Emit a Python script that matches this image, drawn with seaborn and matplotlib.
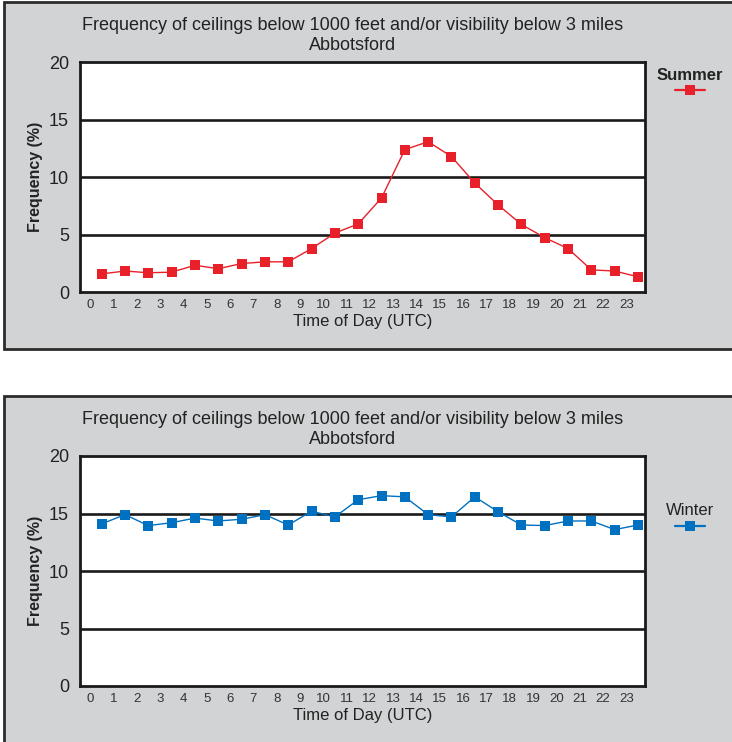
import numpy as np
import pandas as pd
import matplotlib
matplotlib.use("Agg")
import matplotlib.pyplot as plt
from matplotlib.patches import Rectangle
import seaborn as sns

# Data (hourly frequency, %)
HOURS = list(range(24))
SUMMER = [1.6, 1.85, 1.7, 1.75, 2.35, 2.05, 2.5, 2.65, 2.65, 3.8, 5.15, 5.95,
          8.2, 12.4, 13.1, 11.8, 9.5, 7.6, 5.9, 4.75, 3.8, 1.95, 1.85, 1.35]
WINTER = [14.1, 14.9, 13.95, 14.2, 14.6, 14.35, 14.5, 14.9, 14.0, 15.2, 14.7, 16.2,
          16.55, 16.45, 14.9, 14.7, 16.45, 15.15, 14.0, 13.95, 14.35, 14.35, 13.6, 14.0]
YTICKS = [0, 5, 10, 15, 20]
TITLE = "Frequency of ceilings below 1000 feet and/or visibility below 3 miles"
STATION = "Abbotsford"

sns.set_theme(style="white")
plt.rcParams["font.family"] = ["Liberation Sans Narrow", "Liberation Sans", "DejaVu Sans"]

W, H = 732, 742
fig = plt.figure(figsize=(W / 100, H / 100), dpi=100)
fig.patch.set_facecolor("white")

PANEL = "#D1D3D4"
# grey panels
fig.add_artist(Rectangle((4 / W, 1 - 349 / H), 1.0, 347 / H, transform=fig.transFigure,
                         facecolor=PANEL, edgecolor="#2b2b2b", lw=2, zorder=0))
fig.add_artist(Rectangle((4 / W, -0.02), 1.0, 1 - 396 / H + 0.02, transform=fig.transFigure,
                         facecolor=PANEL, edgecolor="#2b2b2b", lw=2, zorder=0))


def panel(ax_rect, values, season, color, title_y, bold_legend, leg_y, hh):
    ax = fig.add_axes(ax_rect)
    ax.set_facecolor("white")
    df = pd.DataFrame({"x": np.array(HOURS) + 0.5, "y": values})
    sns.lineplot(data=df, x="x", y="y", ax=ax, color=color, lw=1.0,
                 marker="s", markersize=6.5, markeredgewidth=0, zorder=3)
    ax.set_xlim(-0.43, 23.8)
    ax.set_ylim(0, 20)
    ax.set_xticks(HOURS)
    ax.set_xticklabels([str(h) for h in HOURS], fontsize=9.5, color="#333333")
    ax.set_yticks(YTICKS)
    ax.set_yticklabels([str(v) for v in YTICKS], fontsize=13, color="#222222")
    ax.tick_params(axis="x", direction="in", length=4, width=1.8, color="#222222", pad=5)
    ax.tick_params(axis="y", length=0, pad=8)
    for y in YTICKS[1:-1]:
        ax.axhline(y, color="#1a1a1a", lw=1.9, zorder=1)
    for s in ax.spines.values():
        s.set_visible(True)
        s.set_color("#1a1a1a")
        s.set_linewidth(2.0)
    ax.set_xlabel("Time of Day (UTC)", fontsize=12, color="#222222", labelpad=2)
    ax.set_ylabel("Frequency (%)", fontsize=11.5, fontweight="bold", color="#222222",
                  family=["Liberation Sans", "DejaVu Sans"], labelpad=4)
    fig.text(353 / W, 1 - title_y / H, TITLE, ha="center", va="center",
             fontsize=13, color="#222222")
    fig.text(353 / W, 1 - (title_y + 21) / H, STATION, ha="center", va="center",
             fontsize=13, color="#222222")
    leg = ax.legend([ax.get_lines()[0]], [""], title=season, loc="upper center",
                    bbox_to_anchor=(690 / W, 1 - leg_y / H), bbox_transform=fig.transFigure,
                    frameon=False, handlelength=2.0, handleheight=hh,
                    handletextpad=0, borderpad=0.0, labelspacing=0)
    for h in leg.legend_handles:
        h.set_linewidth(1.6)
    leg.get_title().set_fontsize(12)
    leg.get_title().set_color("#222222")
    if bold_legend:
        leg.get_title().set_fontweight("bold")
    return ax


panel([80 / W, 1 - 292.3 / H, 565 / W, 230 / H], SUMMER, "Summer", "#E8202A", 25, True, 60, 1.4)
panel([80 / W, 1 - 686 / H, 565 / W, 230 / H], WINTER, "Winter", "#0070C0", 419, False, 495, 2.2)

fig.savefig("out.png", dpi=100)
